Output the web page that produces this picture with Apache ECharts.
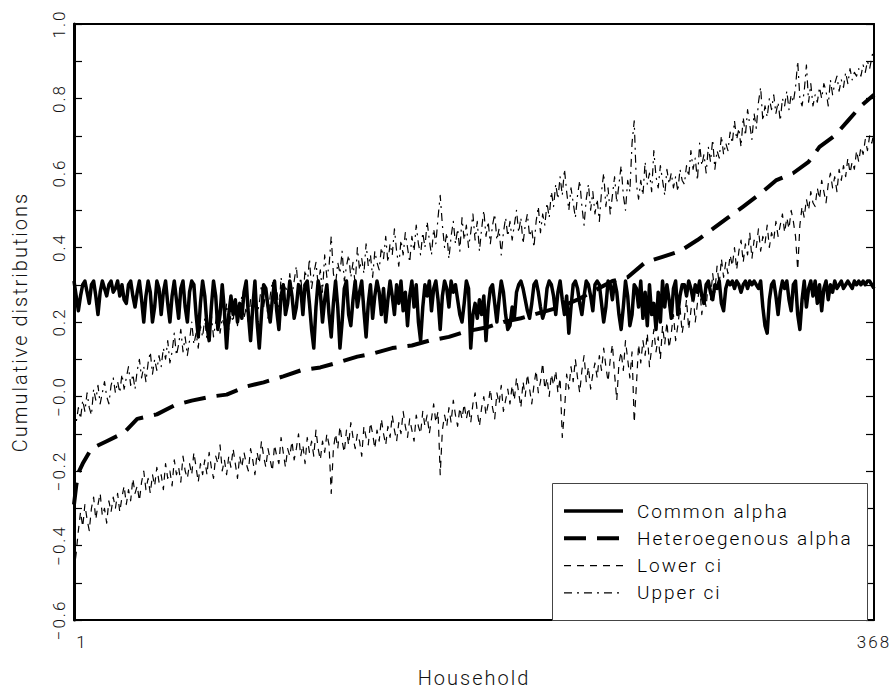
<!DOCTYPE html>
<html>
<head>
<meta charset="utf-8">
<title>Cumulative distributions by household</title>
<script src="https://cdn.jsdelivr.net/npm/echarts@6/dist/echarts.min.js"></script>
<style>
  html, body { margin: 0; padding: 0; background: #fff; }
  #chart { width: 896px; height: 695px; }
  #chart text { letter-spacing: 2px; }
</style>
</head>
<body>
<div id="chart"></div>
<script>
// Household index runs 1..368 along the horizontal axis
const householdCount = 368;
const xTickValues = [1, 368];
const yTickValues = [-0.6, -0.4, -0.2, 0, 0.2, 0.4, 0.6, 0.8, 1.0];
const yTickLabels = ['\u22120.6', '\u22120.4', '\u22120.2', '\u22120.0', '0.2', '0.4', '0.6', '0.8', '1.0'];
const seriesNames = ['Common alpha', 'Heteroegenous alpha', 'Lower ci', 'Upper ci'];

// Common alpha, one value per household
const commonAlpha = [
  0.31,0.27,0.23,0.27,0.30,0.31,0.28,0.25,0.30,0.31,0.27,0.22,0.28,0.31,0.29,0.27,0.30,0.31,0.28,0.29,
  0.31,0.27,0.30,0.26,0.25,0.30,0.31,0.27,0.24,0.28,0.31,0.26,0.20,0.27,0.31,0.28,0.20,0.24,0.31,0.29,
  0.22,0.28,0.31,0.25,0.20,0.27,0.31,0.26,0.21,0.29,0.31,0.24,0.20,0.28,0.31,0.30,0.22,0.16,0.25,0.31,
  0.27,0.19,0.15,0.24,0.31,0.27,0.18,0.22,0.30,0.23,0.13,0.22,0.27,0.22,0.26,0.20,0.25,0.21,0.28,0.31,
  0.22,0.15,0.24,0.31,0.20,0.13,0.22,0.30,0.29,0.24,0.20,0.26,0.31,0.23,0.18,0.27,0.30,0.22,0.25,0.31,
  0.27,0.21,0.24,0.30,0.29,0.22,0.30,0.31,0.25,0.18,0.13,0.24,0.31,0.28,0.20,0.26,0.30,0.22,0.16,0.25,
  0.31,0.24,0.13,0.20,0.29,0.31,0.22,0.19,0.26,0.31,0.24,0.28,0.31,0.23,0.16,0.25,0.30,0.21,0.27,0.31,
  0.28,0.22,0.29,0.20,0.26,0.31,0.27,0.22,0.30,0.25,0.31,0.23,0.28,0.19,0.27,0.31,0.24,0.30,0.20,0.15,
  0.24,0.30,0.27,0.31,0.23,0.29,0.31,0.26,0.18,0.27,0.31,0.29,0.24,0.31,0.28,0.30,0.26,0.22,0.20,0.25,
  0.31,0.29,0.13,0.22,0.25,0.21,0.26,0.22,0.27,0.15,0.24,0.29,0.30,0.25,0.20,0.26,0.31,0.28,0.22,0.18,
  0.19,0.24,0.21,0.28,0.30,0.31,0.29,0.26,0.23,0.21,0.25,0.30,0.31,0.28,0.24,0.21,0.23,0.29,0.31,0.30,
  0.27,0.22,0.28,0.31,0.26,0.22,0.27,0.17,0.24,0.30,0.31,0.29,0.25,0.22,0.27,0.31,0.30,0.27,0.23,0.30,
  0.31,0.30,0.25,0.20,0.24,0.31,0.30,0.26,0.31,0.28,0.22,0.18,0.24,0.31,0.27,0.19,0.22,0.30,0.29,0.24,
  0.31,0.21,0.28,0.19,0.30,0.22,0.25,0.18,0.28,0.20,0.31,0.24,0.30,0.26,0.21,0.29,0.31,0.22,0.27,0.30,
  0.30,0.27,0.31,0.29,0.26,0.30,0.28,0.31,0.27,0.25,0.30,0.31,0.28,0.26,0.30,0.29,0.31,0.25,0.23,0.29,
  0.31,0.30,0.31,0.29,0.31,0.30,0.28,0.30,0.31,0.29,0.31,0.30,0.31,0.30,0.29,0.31,0.24,0.19,0.17,0.26,
  0.30,0.31,0.27,0.22,0.28,0.31,0.29,0.31,0.26,0.23,0.30,0.31,0.22,0.18,0.26,0.31,0.24,0.29,0.31,0.27,
  0.31,0.25,0.30,0.23,0.29,0.31,0.26,0.30,0.28,0.31,0.29,0.30,0.31,0.29,0.30,0.31,0.30,0.29,0.31,0.30,
  0.31,0.30,0.31,0.30,0.31,0.31,0.30,0.29
];

// Lower confidence bound, one value per household
const lowerCi = [
  -0.47,-0.42,-0.36,-0.31,-0.35,-0.29,-0.33,-0.36,-0.30,-0.27,-0.33,-0.29,-0.26,-0.32,-0.30,-0.34,-0.28,-0.31,-0.27,-0.30,
  -0.26,-0.31,-0.27,-0.24,-0.29,-0.25,-0.28,-0.22,-0.26,-0.24,-0.28,-0.23,-0.20,-0.25,-0.22,-0.26,-0.21,-0.24,-0.19,-0.23,
  -0.21,-0.25,-0.18,-0.22,-0.20,-0.24,-0.17,-0.21,-0.19,-0.23,-0.16,-0.20,-0.22,-0.18,-0.21,-0.15,-0.19,-0.23,-0.18,-0.21,
  -0.17,-0.21,-0.15,-0.19,-0.22,-0.16,-0.18,-0.13,-0.20,-0.17,-0.21,-0.16,-0.19,-0.14,-0.18,-0.22,-0.16,-0.19,-0.15,-0.18,
  -0.20,-0.14,-0.17,-0.21,-0.15,-0.18,-0.12,-0.16,-0.19,-0.14,-0.17,-0.20,-0.13,-0.16,-0.18,-0.11,-0.15,-0.19,-0.14,-0.16,
  -0.12,-0.17,-0.14,-0.10,-0.16,-0.13,-0.18,-0.11,-0.15,-0.12,-0.16,-0.09,-0.14,-0.17,-0.12,-0.15,-0.10,-0.13,-0.26,-0.14,
  -0.10,-0.14,-0.08,-0.12,-0.15,-0.09,-0.13,-0.07,-0.11,-0.14,-0.10,-0.12,-0.16,-0.08,-0.11,-0.13,-0.07,-0.10,-0.14,-0.09,
  -0.12,-0.06,-0.10,-0.13,-0.08,-0.11,-0.05,-0.09,-0.12,-0.07,-0.10,-0.04,-0.08,-0.11,-0.06,-0.09,-0.12,-0.05,-0.08,-0.10,
  -0.04,-0.08,-0.05,-0.10,-0.06,-0.02,-0.07,-0.04,-0.21,-0.09,-0.05,-0.08,-0.03,-0.07,-0.01,-0.05,-0.08,-0.03,-0.06,-0.02,
  -0.06,-0.03,-0.07,-0.02,0.01,-0.04,-0.08,-0.03,0.00,-0.05,-0.02,0.02,-0.03,-0.06,0.01,-0.02,0.03,-0.04,-0.01,0.02,
  -0.02,0.03,-0.01,0.05,0.01,-0.03,0.04,0.00,0.06,0.02,-0.02,0.03,0.07,0.01,0.04,0.09,0.02,0.05,0.00,0.06,
  0.03,0.07,0.01,0.05,-0.11,-0.04,0.06,0.02,0.08,0.04,0.10,0.05,0.01,0.07,0.11,0.04,0.08,0.02,0.06,0.09,
  0.05,0.11,0.07,0.13,0.08,0.04,0.10,0.14,0.06,-0.01,0.09,0.12,0.07,0.15,0.10,0.05,0.12,-0.07,0.03,0.14,
  0.09,0.15,0.11,0.17,0.08,0.13,0.18,0.12,0.16,0.10,0.19,0.14,0.20,0.13,0.17,0.22,0.15,0.19,0.24,0.17,
  0.21,0.26,0.18,0.23,0.28,0.20,0.25,0.30,0.22,0.27,0.24,0.31,0.26,0.33,0.28,0.35,0.30,0.37,0.32,0.36,
  0.33,0.38,0.35,0.40,0.34,0.39,0.42,0.36,0.41,0.38,0.44,0.37,0.42,0.40,0.45,0.39,0.43,0.41,0.46,0.40,
  0.44,0.42,0.47,0.43,0.46,0.49,0.44,0.48,0.45,0.50,0.47,0.43,0.34,0.46,0.51,0.48,0.53,0.50,0.55,0.52,
  0.51,0.56,0.53,0.58,0.55,0.52,0.57,0.60,0.56,0.59,0.55,0.61,0.58,0.62,0.59,0.64,0.60,0.63,0.61,0.66,
  0.63,0.67,0.65,0.69,0.66,0.70,0.68,0.71
];

// Upper confidence bound, one value per household
const upperCi = [
  -0.10,-0.07,-0.03,-0.06,-0.01,-0.04,0.01,-0.03,-0.05,0.02,-0.01,0.03,-0.02,0.01,0.04,0.00,-0.02,0.03,0.05,0.01,
  0.04,0.01,0.06,0.02,0.05,0.08,0.03,0.06,0.02,0.07,0.10,0.05,0.08,0.04,0.09,0.12,0.06,0.10,0.07,0.11,
  0.08,0.13,0.10,0.15,0.09,0.12,0.17,0.11,0.14,0.18,0.12,0.16,0.11,0.15,0.20,0.14,0.17,0.13,0.19,0.16,
  0.21,0.15,0.18,0.22,0.16,0.20,0.24,0.17,0.21,0.19,0.25,0.18,0.22,0.20,0.26,0.19,0.23,0.27,0.21,0.24,
  0.20,0.26,0.23,0.29,0.22,0.25,0.30,0.24,0.28,0.21,0.27,0.31,0.25,0.29,0.23,0.32,0.26,0.30,0.27,0.33,
  0.27,0.31,0.35,0.28,0.32,0.26,0.34,0.30,0.37,0.29,0.33,0.36,0.30,0.34,0.28,0.38,0.32,0.35,0.43,0.33,
  0.30,0.36,0.33,0.39,0.31,0.35,0.38,0.32,0.36,0.30,0.40,0.34,0.37,0.33,0.41,0.35,0.38,0.32,0.39,0.36,
  0.34,0.40,0.37,0.43,0.36,0.41,0.38,0.45,0.39,0.35,0.42,0.38,0.44,0.40,0.36,0.43,0.39,0.46,0.41,0.38,
  0.44,0.40,0.47,0.42,0.38,0.45,0.41,0.48,0.54,0.46,0.40,0.44,0.37,0.43,0.47,0.41,0.45,0.39,0.48,0.42,
  0.46,0.40,0.44,0.49,0.42,0.47,0.39,0.45,0.50,0.43,0.47,0.41,0.46,0.49,0.42,0.45,0.38,0.44,0.48,0.43,
  0.47,0.42,0.46,0.50,0.44,0.48,0.41,0.46,0.49,0.43,0.45,0.40,0.47,0.51,0.44,0.49,0.46,0.52,0.48,0.55,
  0.51,0.57,0.53,0.59,0.54,0.61,0.55,0.50,0.56,0.52,0.48,0.54,0.58,0.51,0.46,0.53,0.57,0.50,0.55,0.49,
  0.53,0.47,0.55,0.60,0.51,0.56,0.49,0.54,0.59,0.52,0.57,0.62,0.54,0.50,0.58,0.55,0.68,0.74,0.57,0.53,
  0.58,0.54,0.63,0.57,0.60,0.55,0.66,0.59,0.56,0.62,0.58,0.54,0.61,0.57,0.60,0.56,0.59,0.55,0.61,0.58,
  0.57,0.62,0.59,0.66,0.61,0.64,0.58,0.68,0.62,0.65,0.60,0.67,0.63,0.69,0.61,0.66,0.64,0.70,0.65,0.68,
  0.66,0.71,0.68,0.74,0.69,0.72,0.67,0.75,0.70,0.77,0.73,0.69,0.76,0.72,0.79,0.83,0.74,0.78,0.75,0.80,
  0.77,0.81,0.76,0.79,0.74,0.80,0.78,0.82,0.77,0.81,0.79,0.83,0.90,0.80,0.78,0.82,0.89,0.79,0.84,0.78,
  0.81,0.79,0.83,0.80,0.84,0.82,0.78,0.85,0.81,0.84,0.86,0.82,0.85,0.83,0.87,0.84,0.88,0.85,0.87,0.86,
  0.88,0.86,0.89,0.87,0.90,0.88,0.91,0.94
];

// Heterogeneous alpha is sorted and smooth: sampled households and values
const heteroHouseholds = [1,2,3,5,9,16,24,30,39,47,55,64,71,80,88,97,105,114,122,131,138,147,156,164,173,181,190,198,206,215,224,232,240,248,255,263,271,279,287,294,301,308,317,323,331,338,343,350,356,362,368];
const heteroAlpha = [-0.29,-0.24,-0.205,-0.18,-0.14,-0.12,-0.097,-0.06,-0.048,-0.024,-0.011,0.0,0.005,0.027,0.038,0.054,0.07,0.078,0.091,0.107,0.115,0.13,0.137,0.15,0.16,0.175,0.185,0.2,0.21,0.225,0.24,0.26,0.285,0.31,0.32,0.36,0.375,0.39,0.42,0.45,0.48,0.51,0.55,0.58,0.60,0.63,0.67,0.70,0.74,0.78,0.81];

const pairs = (values) => values.map((v, i) => [i + 1, v]);
const heteroPairs = heteroHouseholds.map((h, i) => [h, heteroAlpha[i]]);

const FONT = 'Roboto, "Liberation Sans", sans-serif';
const INK = '#000';

// Line looks, shared by the plotted series and the key
const looks = {
  'Common alpha':        { width: 3.5, dash: null },
  'Heteroegenous alpha': { width: 4,   dash: [22, 11] },
  'Lower ci':            { width: 1.2, dash: [7, 6] },
  'Upper ci':            { width: 1.2, dash: [8, 5, 2, 5] }
};

const chart = echarts.init(document.getElementById('chart'), null, { renderer: 'svg' });

const yTickFormatter = (v) => {
  const k = yTickValues.findIndex(t => Math.abs(t - v) < 1e-6);
  return k >= 0 ? yTickLabels[k] : '';
};

const lineSeries = (name, data, z) => ({
  name, type: 'line', data, z,
  showSymbol: false, symbol: 'none',
  lineStyle: { color: INK, width: looks[name].width, type: looks[name].dash || 'solid', join: 'round' }
});

// Key box in the lower right corner of the plot
const keyLeft = 552, keyTop = 483, keyWidth = 315, keyHeight = 137;
const keyElements = [
  {
    type: 'rect', left: keyLeft, top: keyTop, z: 50,
    shape: { width: keyWidth, height: keyHeight },
    style: { fill: '#fff', stroke: '#444', lineWidth: 1 }
  }
];
seriesNames.forEach((name, i) => {
  const y = keyTop + 28 + i * 27.3;
  keyElements.push({
    type: 'line', z: 51,
    shape: { x1: keyLeft + 12, y1: y, x2: keyLeft + 71, y2: y },
    style: { stroke: INK, lineWidth: looks[name].width, lineDash: looks[name].dash }
  });
  keyElements.push({
    type: 'text', z: 51, x: keyLeft + 85, y: y,
    style: { text: name, fill: '#000', font: '300 19px ' + FONT, verticalAlign: 'middle' }
  });
});

chart.setOption({
  animation: false,
  backgroundColor: '#fff',
  grid: { left: 74, right: 22, top: 24, bottom: 75, containLabel: false },
  xAxis: [
    {
      type: 'value', position: 'bottom', min: 1, max: householdCount,
      axisLine: { show: true, onZero: false, lineStyle: { color: INK, width: 2 } },
      axisTick: { show: false },
      splitLine: { show: false },
      axisLabel: {
        customValues: xTickValues, margin: 13,
        fontFamily: FONT, fontSize: 17, fontWeight: 300, color: '#111',
        formatter: (v) => (v === 1 ? '{a|1}' : String(v)),
        rich: { a: { fontFamily: FONT, fontSize: 17, fontWeight: 300, color: '#111', padding: [0, 0, 0, 16] } }
      },
      name: 'Household', nameLocation: 'middle', nameGap: 48,
      nameTextStyle: { fontFamily: FONT, fontSize: 20, fontWeight: 300, color: '#111' }
    },
    {
      type: 'value', position: 'top', min: 1, max: householdCount,
      axisLine: { show: true, onZero: false, lineStyle: { color: INK, width: 2 } },
      axisTick: { show: false }, axisLabel: { show: false }, splitLine: { show: false }
    }
  ],
  yAxis: [
    {
      type: 'value', position: 'left', min: -0.6, max: 1.0, interval: 0.1,
      axisLine: { show: true, onZero: false, lineStyle: { color: INK, width: 3 } },
      axisTick: { show: true, inside: true, length: 8, lineStyle: { color: INK, width: 1.2 } },
      splitLine: { show: false },
      axisLabel: {
        customValues: yTickValues, rotate: 90, margin: 7,
        fontFamily: FONT, fontSize: 17, fontWeight: 300, color: '#111',
        formatter: yTickFormatter
      },
      name: 'Cumulative distributions', nameLocation: 'middle', nameGap: 44, nameRotate: 90,
      nameTextStyle: { fontFamily: FONT, fontSize: 20, fontWeight: 300, color: '#111' }
    },
    {
      type: 'value', position: 'right', min: -0.6, max: 1.0, interval: 0.1,
      axisLine: { show: true, onZero: false, lineStyle: { color: INK, width: 2 } },
      axisTick: { show: true, inside: true, length: 8, lineStyle: { color: INK, width: 1.2 } },
      axisLabel: { show: false }, splitLine: { show: false }
    }
  ],
  graphic: keyElements,
  series: [
    lineSeries('Lower ci', pairs(lowerCi), 2),
    lineSeries('Upper ci', pairs(upperCi), 2),
    lineSeries('Heteroegenous alpha', heteroPairs, 3),
    lineSeries('Common alpha', pairs(commonAlpha), 4)
  ]
});
</script>
</body>
</html>
